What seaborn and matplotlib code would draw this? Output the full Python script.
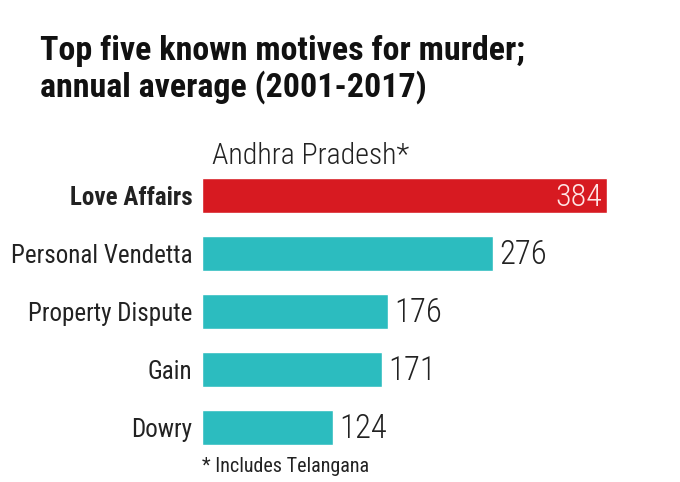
import matplotlib
matplotlib.use("Agg")
import matplotlib.pyplot as plt
import seaborn as sns
import pandas as pd

categories = ["Love Affairs", "Personal Vendetta", "Property Dispute", "Gain", "Dowry"]
values = [384, 276, 176, 171, 124]
highlight = "Love Affairs"
title = "Top five known motives for murder;\nannual average (2001-2017)"
subtitle = "Andhra Pradesh*"
footnote = "* Includes Telangana"

RED = "#d71a21"
TEAL = "#2cbcbf"

sns.set_theme(style="white")
FONT = ["Roboto Condensed", "DejaVu Sans"]
plt.rcParams["font.family"] = FONT

df = pd.DataFrame({"motive": categories, "value": values})
palette = {c: (RED if c == highlight else TEAL) for c in categories}

fig = plt.figure(figsize=(6.8, 4.82), dpi=100)
ax = fig.add_axes([202/680, 1 - 456.5/482, 478/680, 290/482])
sns.barplot(data=df, y="motive", x="value", hue="motive", palette=palette,
            order=categories, orient="h", width=0.6, legend=False, ax=ax,
            saturation=1)
ax.set_xlim(0, 478/1.055)
ax.set_ylim(4.5, -0.5)
ax.set_xlabel("")
ax.set_ylabel("")
ax.set_xticks([])
for s in ax.spines.values():
    s.set_visible(False)
ax.tick_params(axis="y", length=0, pad=7)
ax.set_yticks(range(len(categories)))
ax.set_yticklabels(categories, fontsize=18, color="#222222")
for lbl in ax.get_yticklabels():
    if lbl.get_text() == highlight:
        lbl.set_fontweight("bold")

for i, (c, v) in enumerate(zip(categories, values)):
    if c == highlight:
        ax.text(v - 5, i + 0.03, str(v), ha="right", va="center", fontsize=23,
                color="#ffe6e6", fontweight="light")
    else:
        ax.text(v + 6, i + 0.03, str(v), ha="left", va="center", fontsize=23.5,
                color="#222222", fontweight="light")

fig.text(40/680, 1 - 35/482, title, ha="left", va="top", fontsize=24.5,
         fontweight="bold", color="#111111", linespacing=1.12)
fig.text(212/680, 1 - 156/482, subtitle, ha="left", va="center", fontsize=21.5,
         color="#222222", fontweight="light")
fig.text(202/680, 1 - 466/482, footnote, ha="left", va="center", fontsize=14.5,
         color="#222222")

fig.savefig("out.png", dpi=100, facecolor="white")
